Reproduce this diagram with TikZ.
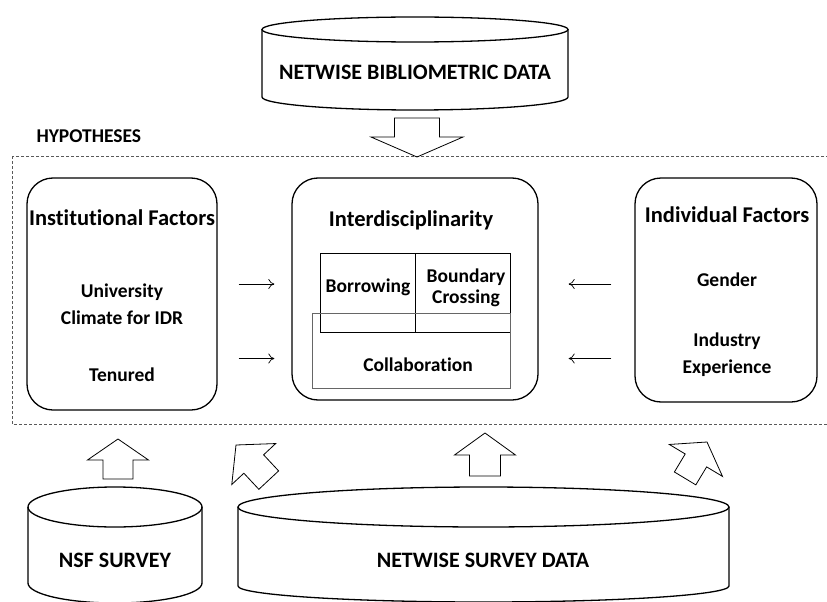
\documentclass[tikz,border=0pt]{standalone}
\usepackage{fontspec}
\setmainfont[Ligatures=CommonOff]{Carlito}
\usetikzlibrary{positioning,arrows.meta}
\tikzset{
    drum/.style={line width=1.3pt},
    factorbox/.style={draw,line width=1.3pt,rounded corners=26pt,inner sep=0pt},
    partbox/.style={draw,line width=0.8pt},
    drumlabel/.style={font=\bfseries\fontsize{22}{26}\selectfont},
    boxtitle/.style={font=\bfseries\fontsize{22.5}{26}\selectfont},
    boxitem/.style={font=\bfseries\fontsize{19.5}{27}\selectfont,align=center},
    parttext/.style={font=\bfseries\fontsize{19.5}{21}\selectfont,align=center},
    link/.style={-{To[length=6pt,width=10pt]},line width=0.7pt},
    pics/fatarrow/.style n args={4}{code={
        \draw[line width=0.8pt] (0,0) -- (-#1,#2) -- (-#3,#2) -- (-#3,#4)
            -- (#3,#4) -- (#3,#2) -- (#1,#2) -- cycle;}}
}
\begin{document}
\begin{tikzpicture}[x=1pt,y=-1pt]
    \useasboundingbox (0,0) rectangle (827,602);
    % data sources
    \draw[drum] (415,29.5) ellipse [x radius=153,y radius=12.5];
    \draw[drum] (262,29.5) -- (262,97) arc[start angle=180,end angle=0,x radius=153,y radius=13] -- (568,29.5);
    \node[drumlabel] (biblio) at (415,72) {NETWISE BIBLIOMETRIC DATA};
    \draw[drum] (115,507) ellipse [x radius=87,y radius=20];
    \draw[drum] (28,507) -- (28,583) arc[start angle=180,end angle=0,x radius=87,y radius=20] -- (202,507);
    \node[drumlabel] (nsf) at (115,560) {NSF SURVEY};
    \draw[drum] (483.5,507) ellipse [x radius=245.5,y radius=20];
    \draw[drum] (238,507) -- (238,586) arc[start angle=180,end angle=0,x radius=245.5,y radius=16] -- (729,507);
    \node[drumlabel] (survey) at (483,560) {NETWISE SURVEY DATA};
    % hypotheses frame
    \draw[dash pattern=on 3pt off 2pt,line width=0.6pt,gray!70!black] (12,156) rectangle (835,424);
    \node[font=\bfseries\fontsize{19.5}{22}\selectfont,anchor=west] (hyp) at (33,136) {HYPOTHESES};
    % factor boxes
    \node[factorbox,minimum width=190pt,minimum height=232pt] (inst) at (122,294) {};
    \node[factorbox,minimum width=246pt,minimum height=222pt] (inter) at (415,289) {};
    \node[factorbox,minimum width=182pt,minimum height=224pt] (indiv) at (726,290) {};
    \node[boxtitle] (instT) at (122,218) {Institutional Factors};
    \node[boxitem] (univ) at (122,304) {University\\Climate for IDR};
    \node[boxitem] (tenure) at (122,375) {Tenured};
    \node[boxtitle] (interT) at (411,220) {Interdisciplinarity};
    \node[boxtitle] (indivT) at (727,215) {Individual Factors};
    \node[boxitem] (gender) at (727,280) {Gender};
    \node[boxitem] (industry) at (727,354.5) {Industry\\Experience};
    % kinds of interdisciplinarity
    \node[partbox,minimum width=95pt,minimum height=79pt] (borrow) at (367.5,292.5) {};
    \node[partbox,minimum width=95pt,minimum height=79pt] (cross) at (462.5,292.5) {};
    \node[partbox,draw=gray!80!black,minimum width=198pt,minimum height=75pt] (collab) at (411,350.5) {};
    \node[parttext] at (368,287) {Borrowing};
    \node[parttext] at (466,288) {Boundary\\Crossing};
    \node[parttext] at (418,365) {Collaboration};
    % influences
    \coordinate (rowA) at (0,284);
    \coordinate (rowB) at (0,358.5);
    \draw[link,shorten <=21pt,shorten >=17pt] (inst.east |- rowA) -- (inter.west |- rowA);
    \draw[link,shorten <=21pt,shorten >=17pt] (inst.east |- rowB) -- (inter.west |- rowB);
    \draw[link,shorten <=23pt,shorten >=30pt] (indiv.west |- rowA) -- (inter.east |- rowA);
    \draw[link,shorten <=23pt,shorten >=30pt] (indiv.west |- rowB) -- (inter.east |- rowB);
    % data feeding the hypotheses
    \pic[rotate=180] at (417,157) {fatarrow={46}{20}{22.5}{39}};
    \pic at (118,439) {fatarrow={30.5}{21}{15}{40}};
    \pic[rotate=43] at (236,445) {fatarrow={30}{26}{13.5}{48}};
    \pic at (485,433) {fatarrow={30.5}{22}{15.5}{43}};
    \pic[rotate=-31] at (707,442) {fatarrow={31}{21.5}{12.5}{42.5}};
\end{tikzpicture}
\end{document}
